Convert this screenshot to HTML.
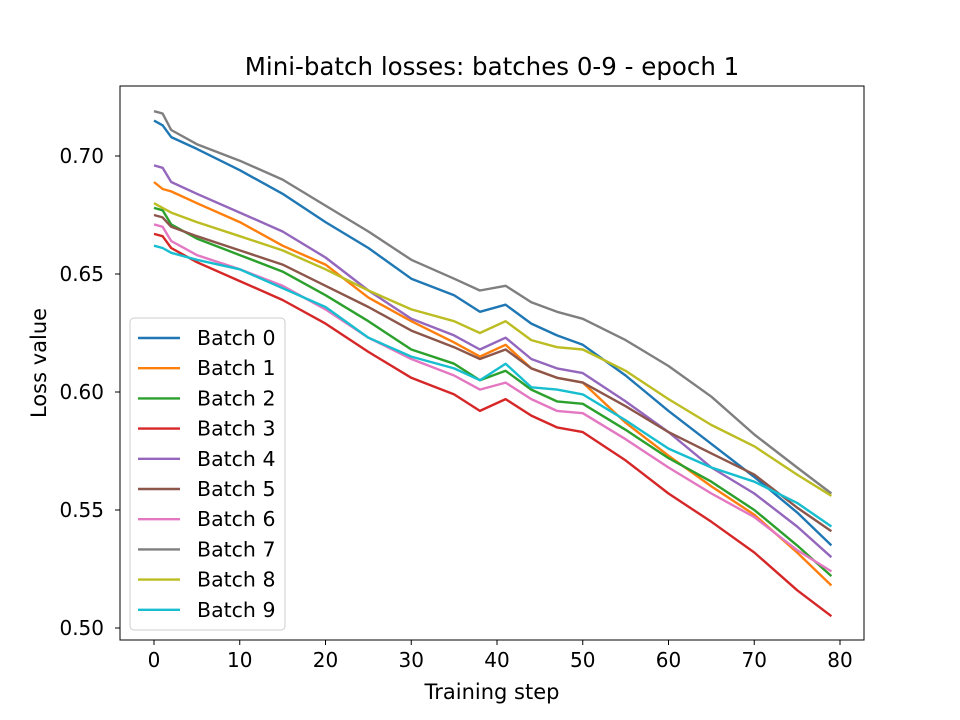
<!DOCTYPE html>
<html><head><meta charset="utf-8"><style>
html,body{margin:0;padding:0;background:#fff;}
svg{display:block;font-family:"DejaVu Sans","Liberation Sans",sans-serif;}
</style></head><body>
<svg id="chart" width="960" height="720" xmlns="http://www.w3.org/2000/svg">
<rect width="960" height="720" fill="#fff"/>
<text x="492" y="75" font-size="24.5" text-anchor="middle">Mini-batch losses: batches 0-9 - epoch 1</text>
<g id="plot"></g>
<rect x="120" y="86" width="744" height="554" fill="none" stroke="#000" stroke-width="1"/>
<text x="492" y="699" font-size="21" text-anchor="middle">Training step</text>
<text x="0" y="0" font-size="21" text-anchor="middle" transform="translate(46,363) rotate(-90)">Loss value</text>
<g id="axes"></g>
<g id="legend"></g>
</svg>
<script>
const steps = [0,1,2,5,10,15,20,25,30,35,38,41,44,47,50,55,60,65,70,75,79];
const batch0 = [0.715,0.713,0.708,0.703,0.694,0.684,0.672,0.661,0.648,0.641,0.634,0.637,0.629,0.624,0.620,0.607,0.592,0.578,0.564,0.549,0.535];
const batch1 = [0.689,0.686,0.685,0.680,0.672,0.662,0.654,0.640,0.630,0.621,0.615,0.620,0.610,0.606,0.604,0.587,0.573,0.560,0.548,0.532,0.518];
const batch2 = [0.678,0.677,0.671,0.665,0.658,0.651,0.641,0.630,0.618,0.612,0.605,0.609,0.601,0.596,0.595,0.584,0.572,0.562,0.550,0.535,0.522];
const batch3 = [0.667,0.666,0.661,0.655,0.647,0.639,0.629,0.617,0.606,0.599,0.592,0.597,0.590,0.585,0.583,0.571,0.557,0.545,0.532,0.516,0.505];
const batch4 = [0.696,0.695,0.689,0.684,0.676,0.668,0.657,0.643,0.631,0.624,0.618,0.623,0.614,0.610,0.608,0.596,0.583,0.568,0.557,0.543,0.530];
const batch5 = [0.675,0.674,0.670,0.666,0.660,0.654,0.645,0.636,0.626,0.619,0.614,0.618,0.610,0.606,0.604,0.594,0.583,0.574,0.565,0.551,0.541];
const batch6 = [0.671,0.670,0.664,0.658,0.652,0.645,0.635,0.623,0.614,0.607,0.601,0.604,0.597,0.592,0.591,0.580,0.568,0.557,0.547,0.533,0.524];
const batch7 = [0.719,0.718,0.711,0.705,0.698,0.690,0.679,0.668,0.656,0.648,0.643,0.645,0.638,0.634,0.631,0.622,0.611,0.598,0.582,0.568,0.557];
const batch8 = [0.680,0.678,0.676,0.672,0.666,0.660,0.652,0.643,0.635,0.630,0.625,0.630,0.622,0.619,0.618,0.609,0.597,0.586,0.577,0.565,0.556];
const batch9 = [0.662,0.661,0.659,0.656,0.652,0.644,0.636,0.623,0.615,0.610,0.605,0.612,0.602,0.601,0.599,0.588,0.576,0.568,0.562,0.553,0.543];
const seriesNames = ["Batch 0","Batch 1","Batch 2","Batch 3","Batch 4","Batch 5","Batch 6","Batch 7","Batch 8","Batch 9"];
const xTicks = [0,10,20,30,40,50,60,70,80];
const yTicks = ["0.50","0.55","0.60","0.65","0.70"];

const series=[batch0,batch1,batch2,batch3,batch4,batch5,batch6,batch7,batch8,batch9];
const colors=["#1f77b4","#ff7f0e","#2ca02c","#d62728","#9467bd","#8c564b","#e377c2","#7f7f7f","#bcbd22","#17becf"];
const NS="http://www.w3.org/2000/svg";
function xs(v){return 154+(v-0)*(840-154)/80;}
function ys(v){return 628-(v-0.5)*(628-156)/0.2;}
function mk(t,a){const e=document.createElementNS(NS,t);for(const k in a)e.setAttribute(k,a[k]);return e;}
const plot=document.getElementById('plot'),axes=document.getElementById('axes'),legend=document.getElementById('legend');
series.forEach((s,i)=>{
  const d=s.map((v,j)=>(j?'L':'M')+xs(steps[j]).toFixed(1)+','+ys(v).toFixed(1)).join(' ');
  const p=mk('path',{d:d,fill:'none',stroke:colors[i],'stroke-width':2.4,'stroke-linejoin':'round'});
  
  
  plot.appendChild(p);
});
xTicks.forEach(t=>{
  const x=xs(t);
  const l=mk('line',{x1:x,x2:x,y1:640,y2:645,stroke:'#000'});
  
  
  axes.appendChild(l);
  const tx=mk('text',{x:x,y:667,'font-size':20,'text-anchor':'middle'});
  
  
  tx.textContent=t;axes.appendChild(tx);
});
yTicks.forEach(t=>{
  const y=ys(parseFloat(t));
  const l=mk('line',{x1:115,x2:120,y1:y,y2:y,stroke:'#000'});
  
  
  axes.appendChild(l);
  const tx=mk('text',{x:104,y:y+7,'font-size':20,'text-anchor':'end'});
  
  
  tx.textContent=t;axes.appendChild(tx);
});
const box=mk('rect',{x:130,y:318,width:155,height:312,rx:4,fill:'#fff','fill-opacity':0.8,stroke:'#ccc'});


legend.appendChild(box);
seriesNames.forEach((n,i)=>{
  const y=338+i*30.2;
  const l=mk('line',{x1:138,x2:180,y1:y,y2:y,stroke:colors[i],'stroke-width':2.4});
  
  
  legend.appendChild(l);
  const tx=mk('text',{x:197,y:y+7,'font-size':20.5});
  
  
  tx.textContent=n;legend.appendChild(tx);
});
</script>
</body></html>
